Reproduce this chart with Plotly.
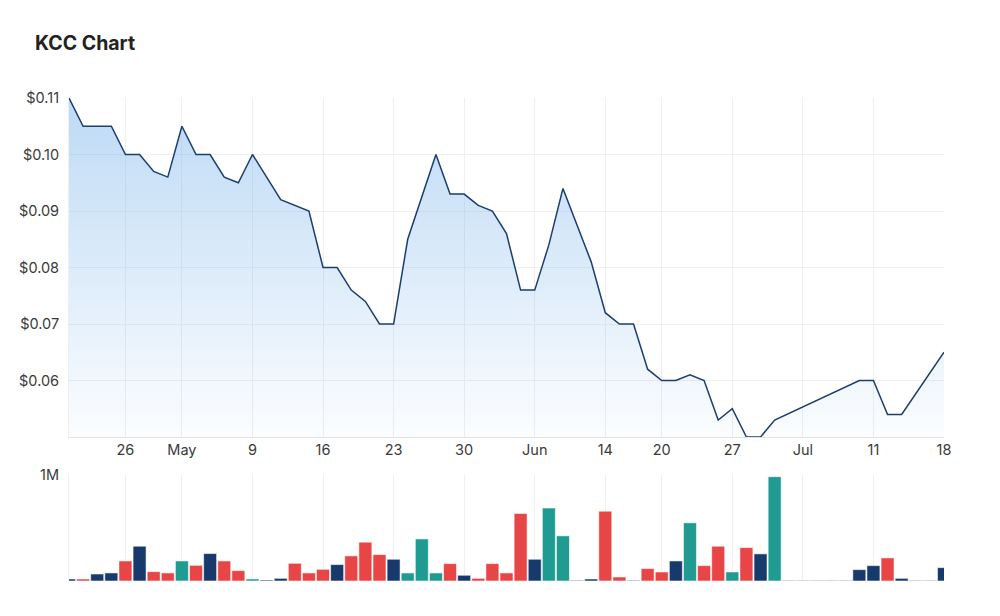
import plotly.graph_objects as go

# ---------------- data ----------------
dates = [
    "2022-04-19", "2022-04-20", "2022-04-21", "2022-04-22", "2022-04-26", "2022-04-27", "2022-04-28", "2022-04-29",
    "2022-05-02", "2022-05-03", "2022-05-04", "2022-05-05", "2022-05-06",
    "2022-05-09", "2022-05-10", "2022-05-11", "2022-05-12", "2022-05-13",
    "2022-05-16", "2022-05-17", "2022-05-18", "2022-05-19", "2022-05-20",
    "2022-05-23", "2022-05-24", "2022-05-25", "2022-05-26", "2022-05-27",
    "2022-05-30", "2022-05-31", "2022-06-01", "2022-06-02", "2022-06-03",
    "2022-06-06", "2022-06-07", "2022-06-08", "2022-06-09", "2022-06-10",
    "2022-06-14", "2022-06-15", "2022-06-16", "2022-06-17",
    "2022-06-20", "2022-06-21", "2022-06-22", "2022-06-23", "2022-06-24",
    "2022-06-27", "2022-06-28", "2022-06-29", "2022-06-30", "2022-07-01",
    "2022-07-04", "2022-07-05", "2022-07-06", "2022-07-07", "2022-07-08",
    "2022-07-11", "2022-07-12", "2022-07-13", "2022-07-14", "2022-07-15",
    "2022-07-18",
]

close_price = [
    0.110, 0.105, 0.105, 0.105, 0.100, 0.100, 0.097, 0.096,
    0.105, 0.100, 0.100, 0.096, 0.095,
    0.100, None, 0.092, 0.091, 0.090,
    0.080, 0.080, 0.076, 0.074, 0.070,
    0.070, 0.085, 0.0925, 0.100, 0.093,
    0.093, 0.091, 0.090, 0.086, 0.076,
    0.076, 0.084, 0.094, None, 0.081,
    0.072, 0.070, 0.070, 0.062,
    0.060, 0.060, 0.061, 0.060, 0.053,
    0.055, 0.050, 0.050, 0.053, None,
    None, None, None, None, 0.060,
    0.060, 0.054, 0.054, None, None,
    0.065,
]

volume = [
    19000, 19000, 66000, 76000, 189000, 328000, 88000, 76000,
    189000, 148000, 259000, 189000, 98000,
    19000, 9000, 25000, 167000, 76000,
    110000, 155000, 237000, 366000, 249000,
    205000, 76000, 397000, 76000, 164000,
    54000, 25000, 164000, 76000, 637000,
    205000, 688000, 426000, 6000, 19000,
    659000, 38000, 6000, 117000,
    85000, 189000, 549000, 145000, 328000,
    85000, 315000, 256000, 984000, 5000,
    5000, 5000, 5000, 5000, 107000,
    145000, 218000, 25000, 5000, 5000,
    126000,
]

# day direction: u = up, d = down, f = flat
direction = [
    "f", "d", "f", "f", "d", "f", "d", "d",
    "u", "d", "f", "d", "d",
    "u", "f", "f", "d", "d",
    "d", "f", "d", "d", "d",
    "f", "u", "u", "u", "d",
    "f", "d", "d", "d", "d",
    "f", "u", "u", "f", "f",
    "d", "d", "f", "d",
    "d", "f", "u", "d", "d",
    "u", "d", "f", "u", "f",
    "f", "f", "f", "f", "f",
    "f", "d", "f", "f", "f",
    "f",
]

tick_dates = ["2022-04-26", "2022-05-02", "2022-05-09", "2022-05-16", "2022-05-23", "2022-05-30",
              "2022-06-06", "2022-06-14", "2022-06-20", "2022-06-27", "2022-07-04", "2022-07-11",
              "2022-07-18"]
tick_labels = ["26", "May", "9", "16", "23", "30", "Jun", "14", "20", "27", "Jul", "11", "18"]

price_ticks = [0.06, 0.07, 0.08, 0.09, 0.10, 0.11]
price_tick_labels = ["$0.06", "$0.07", "$0.08", "$0.09", "$0.10", "$0.11"]

# ---------------- styling ----------------
NAVY = "#17396c"
RED = "#e84646"
TEAL = "#1f9b91"
dir_colors = {"u": TEAL, "d": RED, "f": NAVY}
bar_colors = [dir_colors[d] for d in direction]

GRID = "#efefef"
FONT = "Inter, Roboto, Arial, sans-serif"
TICK_FONT = dict(family=FONT, size=14.5, color="#3a3a3a")

fig = go.Figure()

fig.add_trace(go.Scatter(
    x=dates, y=close_price, mode="lines", connectgaps=True,
    line=dict(color="#1b3d70", width=1.5),
    fill="tozeroy",
    fillgradient=dict(
        type="vertical",
        colorscale=[[0, "rgba(124,181,236,0.03)"], [1, "rgba(124,181,236,0.5)"]],
        start=0.05, stop=0.11,
    ),
    xaxis="x", yaxis="y", showlegend=False, hoverinfo="x+y",
))

fig.add_trace(go.Bar(
    x=dates, y=volume,
    marker=dict(color=bar_colors, line=dict(color="rgba(255,255,255,0.55)", width=1)),
    xaxis="x2", yaxis="y2", showlegend=False,
))

n = len(dates)
common_x = dict(
    type="category", range=[0, n - 1],
    tickmode="array", tickvals=tick_dates, ticktext=tick_labels,
    showgrid=True, gridcolor=GRID, gridwidth=1,
    ticks="", zeroline=False, fixedrange=True,
)

fig.update_layout(
    width=1000, height=616,
    margin=dict(l=69, r=56, t=98, b=35),
    paper_bgcolor="white", plot_bgcolor="white",
    bargap=0.08,
    font=dict(family=FONT, color="#3a3a3a"),
    title=dict(
        text="<b>KCC Chart</b>",
        font=dict(family=FONT, size=19.5, color="#222222"),
        x=0.035, xref="container", xanchor="left",
        y=1 - 43 / 616, yref="container", yanchor="middle",
    ),
    xaxis=dict(
        **common_x, domain=[0, 1], anchor="y",
        showticklabels=True, tickfont=TICK_FONT,
        showline=True, linecolor="#e3e3e3", linewidth=1,
    ),
    yaxis=dict(
        domain=[0.2981, 1.0], anchor="x",
        range=[0.05, 0.11],
        tickmode="array", tickvals=price_ticks, ticktext=price_tick_labels,
        tickfont=TICK_FONT,
        showgrid=True, gridcolor=GRID, gridwidth=1,
        showline=True, linecolor=GRID, linewidth=1,
        zeroline=False, ticks="", ticklabelstandoff=6,
    ),
    xaxis2=dict(
        **common_x, domain=[0, 1], anchor="y2",
        showticklabels=False, showline=False,
    ),
    yaxis2=dict(
        domain=[0.0, 0.2195], anchor="x2",
        range=[0, 1000000],
        tickmode="array", tickvals=[1000000], ticktext=["1M"],
        tickfont=TICK_FONT,
        showgrid=True, gridcolor=GRID, gridwidth=1,
        showline=True, linecolor=GRID, linewidth=1,
        zeroline=False, ticks="", ticklabelstandoff=6,
    ),
)

fig.write_html("out.html")
